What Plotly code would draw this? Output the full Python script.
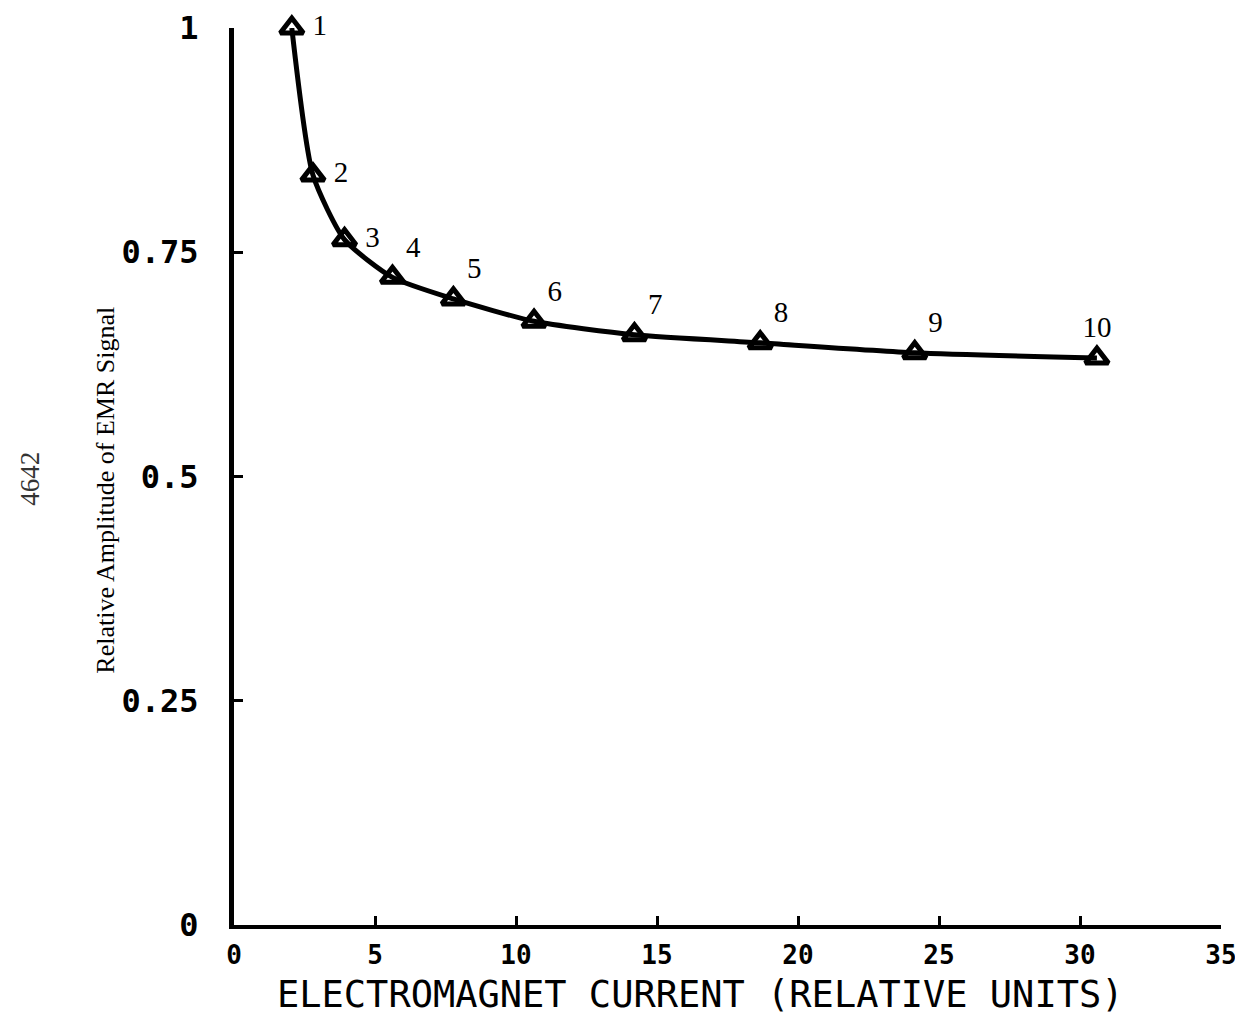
import plotly.graph_objects as go

current = [2.05, 2.8, 3.92, 5.62, 7.78, 10.64, 14.2, 18.66, 24.14, 30.6]
amplitude = [1.0, 0.836, 0.764, 0.722, 0.698, 0.673, 0.658, 0.649, 0.638, 0.632]
point_labels = ["1", "2", "3", "4", "5", "6", "7", "8", "9", "10"]
label_pos = ["middle right", "middle right", "middle right", "top right", "top right",
             "top right", "top right", "top right", "top right", "top center"]
x_ticks = [0, 5, 10, 15, 20, 25, 30, 35]
y_ticks = [0, 0.25, 0.5, 0.75, 1]
y_ticklabels = ["0", "0.25", "0.5", "0.75", "1"]
x_title = "ELECTROMAGNET CURRENT (RELATIVE UNITS)"
y_title = "Relative Amplitude of EMR Signal"
side_note = "4642"

mono = "DejaVu Sans Mono, monospace"
serif = "Liberation Serif, DejaVu Serif, serif"

shown_labels = [(" " + t if p == "middle right" else t) for t, p in zip(point_labels, label_pos)]

fig = go.Figure()
fig.add_trace(go.Scatter(
    x=current, y=amplitude,
    mode="lines+markers+text",
    line=dict(color="black", width=5, shape="spline", smoothing=0.6),
    marker=dict(symbol="triangle-up-open", size=20, color="black",
                line=dict(width=5, color="black")),
    text=shown_labels, textposition=label_pos,
    textfont=dict(family=serif, size=29, color="black"),
    cliponaxis=False,
    showlegend=False,
))

fig.update_layout(
    width=1235, height=1012,
    margin=dict(l=226, r=22, t=20, b=95),
    paper_bgcolor="white", plot_bgcolor="white",
    xaxis=dict(
        range=[0, 35], tickvals=x_ticks, ticktext=[str(v) for v in x_ticks],
        showline=True, linecolor="black", linewidth=4,
        ticks="inside", ticklen=9, tickwidth=3, tickcolor="black",
        showgrid=False, zeroline=False, automargin=False,
        ticklabelstandoff=4,
        tickfont=dict(family=mono, size=26, color="black", weight="bold"),
    ),
    yaxis=dict(
        range=[0, 1], tickvals=y_ticks, ticktext=y_ticklabels,
        showline=True, linecolor="black", linewidth=5,
        ticks="inside", ticklen=9, tickwidth=3, tickcolor="black",
        showgrid=False, zeroline=False, automargin=False,
        ticklabelstandoff=24,
        tickfont=dict(family=mono, size=32, color="black", weight="bold"),
    ),
    annotations=[
        dict(text=x_title, xref="paper", yref="paper", x=0.472, y=-0.077,
             xanchor="center", yanchor="middle", showarrow=False,
             font=dict(family=mono, size=37, color="black")),
        dict(text=y_title, xref="paper", yref="paper", x=-0.13, y=0.485,
             xanchor="center", yanchor="middle", textangle=-90, showarrow=False,
             font=dict(family=serif, size=26, color="black")),
        dict(text=side_note, xref="paper", yref="paper", x=-0.206, y=0.497,
             xanchor="center", yanchor="middle", textangle=-90, showarrow=False,
             font=dict(family=serif, size=27, color="#333")),
    ],
)

fig.write_html("out.html")
